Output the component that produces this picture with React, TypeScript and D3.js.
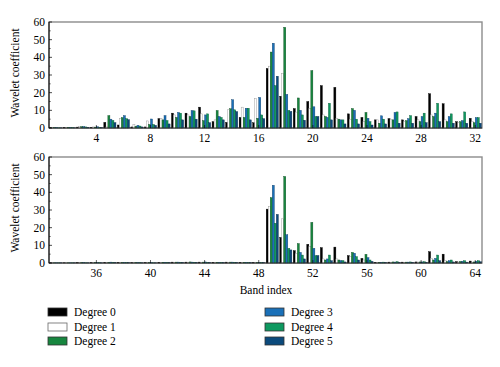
import React from 'react';
import * as d3 from 'd3';

// band indices 1..64, one value per band for each degree
const bands = d3.range(1, 65);
const degrees = ['Degree 0', 'Degree 1', 'Degree 2', 'Degree 3', 'Degree 4', 'Degree 5'];
const colors = ['#000000', '#ffffff', '#17863f', '#1a70b8', '#0e9960', '#0b4a7c'];
const strokes = ['#000000', '#8c8c8c', '#0d4a22', '#0d3d66', '#0a5a38', '#062a48'];

const degree0 = [
  0.2, 0.3, 0.5, 0.4, 3.2, 1.7, 0.6, 0.6, 5.3, 8.4, 8.4, 11.8, 3.6, 3.2, 6, 3,
  33.7, 18, 11, 15, 24, 23, 8, 6, 4.6, 5.3, 4.6, 6.5, 19.4, 13.7, 3.6, 5.5,
  0.1, 0.1, 0.2, 0.2, 0.4, 0.3, 0.2, 0.2, 0.4, 0.5, 0.5, 0.5, 0.4, 0.5, 0.4, 0.3,
  30.5, 14.5, 7, 10.6, 8.7, 9, 4.2, 2.6, 0.4, 0.5, 0.5, 0.6, 6.4, 5, 0.8, 1.1,
];
const degree1 = [
  0.1, 0.2, 0.7, 0.6, 0.6, 5.3, 2, 4, 5.5, 7.4, 7.4, 8, 4.6, 10.3, 11.8, 16.6,
  35, 31, 9, 11, 7.4, 5.5, 5, 3.6, 4.6, 5, 3.6, 4.6, 7.4, 4.6, 3, 3.6,
  0.1, 0.1, 0.1, 0.2, 0.3, 0.3, 0.2, 0.1, 0.3, 0.4, 0.4, 0.4, 0.3, 0.4, 0.3, 0.2,
  32, 25, 5.5, 9.2, 2.3, 2.3, 3.6, 1.7, 0.3, 0.4, 0.4, 0.5, 2.6, 1.3, 0.6, 0.5,
];
const degree2 = [
  0.2, 0.4, 0.8, 0.5, 7, 5.9, 1, 2, 4.6, 6, 6.5, 4.2, 9.9, 10.9, 6, 5.5,
  43, 57, 17, 32.5, 6.5, 5, 11, 8.8, 2.7, 4.6, 4.2, 3.6, 6.5, 3.6, 3.6, 3,
  0.1, 0.1, 0.2, 0.2, 0.4, 0.3, 0.2, 0.2, 0.4, 0.5, 0.6, 0.5, 0.4, 0.5, 0.4, 0.3,
  37, 49, 11, 23, 1.7, 1.7, 6, 4.9, 0.4, 0.6, 0.5, 0.6, 1.7, 0.8, 0.9, 0.6,
];
const degree3 = [
  0.2, 0.3, 0.8, 0.7, 5, 7, 1.5, 5.1, 7, 8.8, 9.9, 7.4, 6.5, 16, 11.2, 17.3,
  48, 19, 10, 12, 6, 4.6, 10, 5.5, 6.9, 8.8, 5.3, 6.5, 8.4, 6.5, 4.2, 5.9,
  0.1, 0.1, 0.2, 0.2, 0.5, 0.3, 0.2, 0.2, 0.4, 0.5, 0.5, 0.6, 0.4, 0.5, 0.4, 0.3,
  44, 16, 6, 8.3, 2.3, 1.3, 5.5, 3, 0.4, 0.5, 0.5, 0.6, 2.6, 1.3, 1, 1,
];
const degree4 = [
  0.1, 0.2, 0.6, 0.4, 4.3, 5.3, 1.1, 2, 4.2, 8.4, 9.7, 8, 6, 10.3, 11.2, 7.4,
  24, 10, 7.4, 6.5, 14, 4.6, 5, 3.6, 5, 9.1, 7, 8.4, 14, 8, 9.1, 5.9,
  0.1, 0.1, 0.1, 0.2, 0.3, 0.2, 0.2, 0.1, 0.3, 0.4, 0.4, 0.4, 0.3, 0.4, 0.3, 0.2,
  22.5, 8.3, 4.5, 4.2, 4.5, 1.3, 3.6, 1.7, 0.5, 0.7, 0.6, 0.7, 4.5, 1.7, 1.3, 1.3,
];
const degree5 = [
  0.1, 0.1, 0.3, 0.2, 3, 4.7, 0.6, 1.5, 2.3, 4.6, 5, 3, 4.6, 9.3, 4.6, 5.3,
  29.3, 9.4, 4.4, 6.5, 4.6, 2.3, 2.3, 1.7, 2.3, 2.7, 2.7, 3, 3.6, 2.7, 2.7, 2.7,
  0.1, 0.1, 0.1, 0.1, 0.2, 0.2, 0.1, 0.1, 0.2, 0.3, 0.3, 0.3, 0.2, 0.3, 0.2, 0.2,
  27.5, 7.4, 2.3, 4.2, 1.3, 0.6, 1.7, 0.9, 0.3, 0.3, 0.3, 0.4, 1.3, 0.6, 0.5, 0.7,
];
const series = [degree0, degree1, degree2, degree3, degree4, degree5];
const yTicks = [0, 10, 20, 30, 40, 50, 60];

const W = 500;
const H = 367;
const left = 49;
const right = 482;
const font = 'Liberation Serif, Times New Roman, Times, serif';

function Panel({ from, to, top, bottom }: { from: number; to: number; top: number; bottom: number }) {
  const idx = bands.filter(b => b >= from && b <= to);
  const x = d3.scaleBand<number>().domain(idx).range([left, right]);
  const inner = d3.scaleBand<number>().domain(d3.range(6)).range([0, x.bandwidth()]).paddingOuter(0.35);
  const y = d3.scaleLinear().domain([0, 60]).range([bottom, top]);
  const labelled = idx.filter(b => b % 4 === 0);
  const minor = d3.range(5, 60, 10);

  return (
    <g>
      <rect x={left} y={top} width={right - left} height={bottom - top} fill="#fff" stroke="#8c8c8c" strokeWidth={1.4} />
      {idx.map(b =>
        series.map((s, k) => {
          const v = s[b - 1];
          return (
            <rect
              key={`${b}-${k}`}
              x={x(b)! + inner(k)!}
              y={y(v)}
              width={inner.bandwidth()}
              height={y(0) - y(v)}
              fill={colors[k]}
              stroke={strokes[k]}
              strokeWidth={0.4}
            />
          );
        })
      )}
      <line x1={left} x2={left} y1={top} y2={bottom} stroke="#000" strokeWidth={1} />
      <line x1={left} x2={right} y1={bottom} y2={bottom} stroke="#333" strokeWidth={1} />
      {yTicks.map(t => (
        <g key={t}>
          <line x1={left} x2={left + 3} y1={y(t)} y2={y(t)} stroke="#000" strokeWidth={0.7} />
          <text x={left - 4} y={y(t)} dy="0.35em" textAnchor="end" fontSize={11.5} fontFamily={font}>{t}</text>
        </g>
      ))}
      {minor.map(t => (
        <line key={t} x1={left} x2={left + 1.8} y1={y(t)} y2={y(t)} stroke="#000" strokeWidth={0.5} />
      ))}
      {labelled.map(b => {
        const cx = x(b)! + x.bandwidth() / 2;
        return (
          <g key={b}>
            <line x1={cx} x2={cx} y1={bottom} y2={bottom - 3} stroke="#000" strokeWidth={0.6} />
            <text x={cx} y={bottom + 14} textAnchor="middle" fontSize={11.5} fontFamily={font}>{b}</text>
          </g>
        );
      })}
      <text
        transform={`translate(${19},${(top + bottom) / 2 - 2}) rotate(-90)`}
        textAnchor="middle"
        fontSize={11.5}
        fontFamily={font}
      >
        Wavelet coefficient
      </text>
    </g>
  );
}

export default function App() {
  const legendRows = [312, 327, 341];
  return (
    <svg width={W} height={H} style={{ position: 'absolute', left: 0, top: 0, background: '#fff' }}>
      <Panel from={1} to={32} top={22} bottom={128} />
      <Panel from={33} to={64} top={157} bottom={263} />
      <text x={266} y={294} textAnchor="middle" fontSize={11.5} fontFamily={font}>Band index</text>
      {degrees.map((d, k) => {
        const col = k < 3 ? 0 : 1;
        const row = k % 3;
        const sx = col === 0 ? 48 : 265;
        const cy = legendRows[row];
        return (
          <g key={d}>
            <rect x={sx} y={cy - 4} width={19} height={8} fill={colors[k]} stroke={k === 1 ? '#666' : '#333'} strokeWidth={0.8} />
            <text x={sx + 26} y={cy} dy="0.35em" fontSize={11.5} fontFamily={font}>{d}</text>
          </g>
        );
      })}
    </svg>
  );
}
